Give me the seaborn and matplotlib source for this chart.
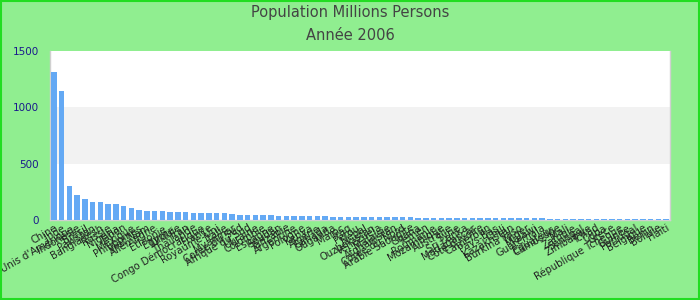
import matplotlib
matplotlib.use("Agg")
import matplotlib.pyplot as plt
import seaborn as sns
import pandas as pd
from matplotlib.patches import Rectangle

countries = [
    "Chine", "Inde", "États-Unis d'Amérique", "Indonésie", "Brésil", "Pakistan",
    "Bangladesh", "Russie", "Nigéria", "Japon", "Mexique", "Philippines",
    "Viet Nam", "Allemagne", "Éthiopie", "Égypte", "Turquie", "Iran",
    "Thaïlande", "Congo Démocratique", "France", "Royaume-Uni",
    "Italie", "Myanmar", "Corée du Sud", "Afrique du Sud", "Ukraine", "Colombie",
    "Espagne", "Soudan", "Tanzanie", "Argentine", "Pologne", "Kenya",
    "Algérie", "Canada", "Ouganda", "Maroc", "Iraq", "Pérou",
    "Népal", "Ouzbékistan", "Venezuela", "Malaisie", "Afghanistan",
    "Corée du Nord", "Arabie Saoudite", "Ghana", "Yémen", "Roumanie",
    "Mozambique", "Australie", "Syrie", "Sri Lanka", "Madagascar",
    "Côte d'Ivoire", "Cameroun", "Pays-Bas", "Chili", "Kazakhstan",
    "Burkina Faso", "Niger", "Malawi", "Guatemala", "Équateur",
    "Cambodge", "Mali", "Zambie", "Sénégal", "Zimbabwe",
    "Tchad", "Cuba", "Grèce", "République Tchèque", "Guinée", "Portugal",
    "Belgique", "Bénin", "Bolivie", "Haïti",
]
population = [
    1314, 1145, 302, 224, 187, 162,
    160, 144, 142, 126, 106, 89,
    82, 81, 80, 73, 72, 71,
    64, 63, 62, 62, 61, 54,
    46, 46, 45, 45, 45, 37,
    37, 37, 37, 36, 36, 35,
    29, 29, 28, 28,
    28, 28, 28, 27, 27, 27, 27,
    20, 20, 20, 20, 20, 20, 20, 20,
    20, 19, 19, 19, 19, 19, 19, 19, 19,
    12, 12, 12, 12, 12, 12, 12, 12,
    11, 11, 11, 11, 11, 11, 11, 11,
]

df = pd.DataFrame({"pays": countries, "pop": population})

sns.set_style("white")
plt.rcParams['font.family'] = ['DejaVu Sans']

fig = plt.figure(figsize=(7, 3), dpi=100)
fig.patch.set_facecolor("#90ee90")
ax = fig.add_axes([50 / 700, 80 / 300, 620 / 700, 169 / 300])
ax.set_facecolor("white")

ax.axhspan(500, 1000, facecolor="#f2f2f2", edgecolor="none", linewidth=0, zorder=0)

sns.barplot(data=df, x="pays", y="pop", color="#64a9f4", saturation=1,
            width=0.68, linewidth=0, edgecolor="none", ax=ax, zorder=3)
for p in ax.containers[0]:
    p.set_antialiased(False)

ax.set_ylim(0, 1500)
ax.set_xlim(-0.5, len(countries) - 0.5)
ax.set_yticks([0, 500, 1000, 1500])
ax.tick_params(axis="y", labelsize=7.5, labelcolor="#1a1a8c", length=0, pad=8)
ax.tick_params(axis="x", labelsize=7.2, labelcolor="#222222", length=0, pad=2)
plt.setp(ax.get_xticklabels(), rotation=30, ha="right", rotation_mode="anchor")
ax.set_xlabel("")
ax.set_ylabel("")
for s in ["left", "bottom", "right", "top"]:
    ax.spines[s].set_color("#d0d0d0")
    ax.spines[s].set_linewidth(1)
    ax.spines[s].set_zorder(1)
ax.spines["top"].set_visible(False)

fig.text(0.5, 1 - 12 / 300, "Population Millions Persons", ha="center", va="center",
         fontsize=10.5, color="#444444")
fig.text(0.5, 1 - 36 / 300, "Année 2006", ha="center", va="center",
         fontsize=10.5, color="#444444")

fig.patches.append(Rectangle((0.001, 0.002), 0.997, 0.995, transform=fig.transFigure,
                             fill=False, edgecolor="#22dd22", linewidth=1.5))

fig.savefig("out.png", dpi=100, facecolor=fig.get_facecolor())
